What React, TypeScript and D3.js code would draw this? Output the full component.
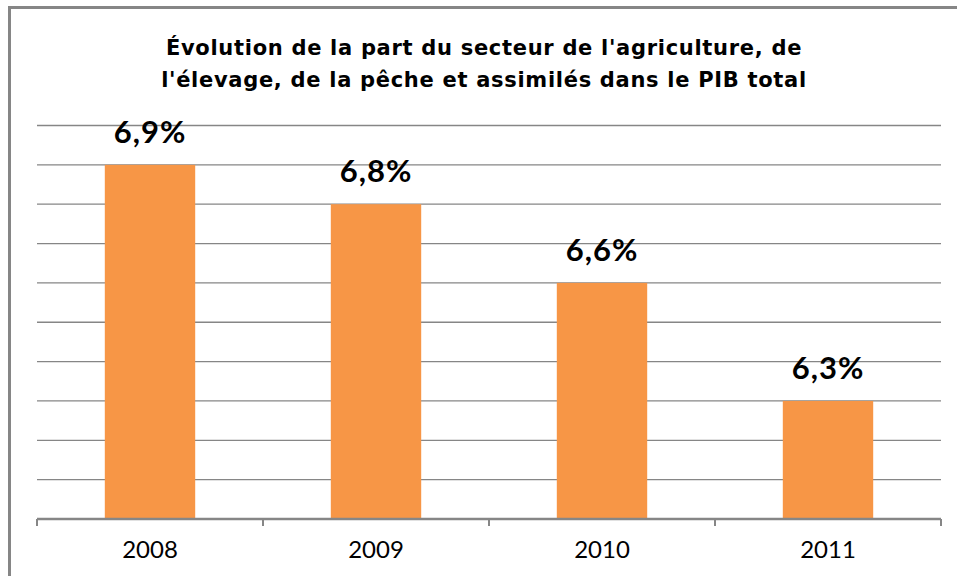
import * as React from "react";
import * as d3 from "d3";

const years = ["2008", "2009", "2010", "2011"];
const shares = [6.9, 6.8, 6.6, 6.3];
const titleLines = [
  "Évolution de la part du secteur de l'agriculture, de",
  "l'élevage, de la pêche et assimilés dans le PIB total",
];
const gridTicks = [6.0, 6.1, 6.2, 6.3, 6.4, 6.5, 6.6, 6.7, 6.8, 6.9, 7.0];

const W = 957;
const H = 576;
const margin = { top: 125.5, right: 16, bottom: 57, left: 37 };

export default function App() {
  const w = W - margin.left - margin.right;
  const h = H - margin.top - margin.bottom;

  const x = d3.scaleBand().domain(years).range([0, w]).paddingInner(0.6).paddingOuter(0.3);
  const band = d3.scaleBand().domain(years).range([0, w]);
  const y = d3.scaleLinear().domain([6.0, 7.0]).range([h, 0]);

  const fmt = (v: number) => v.toFixed(1).replace(".", ",") + "%";

  return (
    <svg
      width={W}
      height={H}
      style={{ position: "absolute", left: 0, top: 0, background: "#fff" }}
    >
      {/* chart area frame, runs off the picture on the right and bottom */}
      <rect x={9.5} y={7.5} width={1000} height={1000} fill="none" stroke="#868686" strokeWidth={3} />

      <g fontFamily="'DejaVu Sans', sans-serif" fontWeight="bold" fontSize={21} letterSpacing={0.7} textAnchor="middle">
        {titleLines.map((t, i) => (
          <text key={i} x={484} y={55 + i * 32} fill="#000">
            {t}
          </text>
        ))}
      </g>

      <g transform={`translate(${margin.left},${margin.top})`}>
        {gridTicks.slice(1).map((t) => (
          <line key={t} x1={0} x2={w} y1={y(t)} y2={y(t)} stroke="#868686" strokeWidth={1.3} />
        ))}

        {shares.map((v, i) => (
          <rect
            key={years[i]}
            x={x(years[i])}
            y={y(v)}
            width={x.bandwidth()}
            height={h - y(v)}
            fill="#F79646"
          />
        ))}

        {/* x axis */}
        <line x1={0} x2={w} y1={h} y2={h} stroke="#868686" strokeWidth={2.5} />
        {[...years.map((c) => band(c) as number), w].map((px, i) => (
          <line key={i} x1={px} x2={px} y1={h} y2={h + 7} stroke="#868686" strokeWidth={2} />
        ))}
        {years.map((c) => (
          <text
            key={c}
            x={(band(c) as number) + band.bandwidth() / 2}
            y={h + 39}
            textAnchor="middle"
            fontFamily="Lato, 'DejaVu Sans', sans-serif"
            fontSize={24}
            fill="#000"
          >
            {c}
          </text>
        ))}

        {shares.map((v, i) => (
          <text
            key={"l" + i}
            x={(x(years[i]) as number) + x.bandwidth() / 2}
            y={y(v) - 22}
            textAnchor="middle"
            fontFamily="Lato, 'DejaVu Sans', sans-serif"
            fontWeight="bold"
            fontSize={31}
            letterSpacing={1}
            fill="#000"
          >
            {fmt(v)}
          </text>
        ))}
      </g>
    </svg>
  );
}
